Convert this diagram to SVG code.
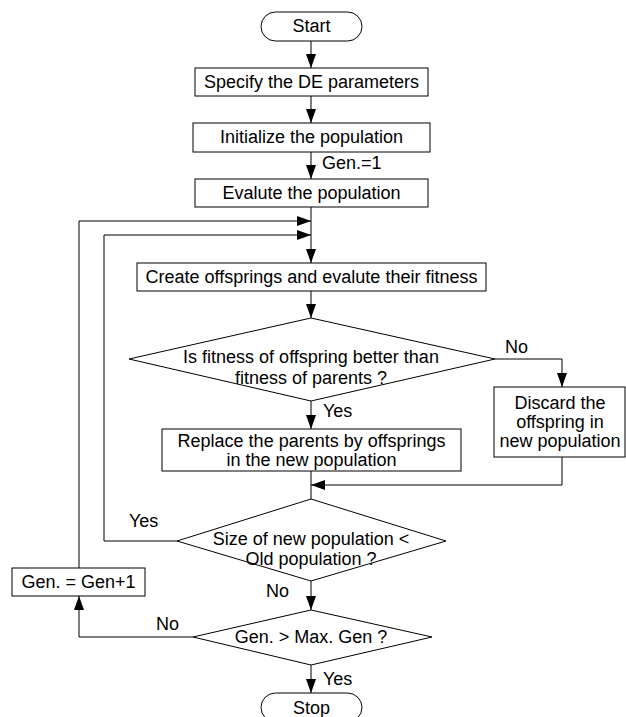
<svg xmlns="http://www.w3.org/2000/svg" width="626" height="717" viewBox="0 0 626 717">
<defs>
<marker id="arr" viewBox="0 0 14 10" refX="14" refY="5" markerWidth="14" markerHeight="10" markerUnits="userSpaceOnUse" orient="auto">
<path d="M0,0 L14,5 L0,10 Z" fill="#000"/>
</marker>
</defs>
<style>
.s{fill:#fff;stroke:#000;stroke-width:1}
.t{font-family:"Liberation Sans",Arial,sans-serif;font-size:18px;fill:#000;text-anchor:middle;dominant-baseline:central}
.l{font-family:"Liberation Sans",Arial,sans-serif;font-size:18px;fill:#000;dominant-baseline:central}
.c{fill:none;stroke:#000;stroke-width:1}
</style>
<rect width="626" height="717" fill="#fff"/>
<g id="connectors">
<path class="c" d="M311,41 V68" marker-end="url(#arr)"/>
<path class="c" d="M311,96 V123" marker-end="url(#arr)"/>
<path class="c" d="M311,152 V179" marker-end="url(#arr)"/>
<path class="c" d="M311,207 V263" marker-end="url(#arr)"/>
<path class="c" d="M311,291 V318" marker-end="url(#arr)"/>
<path class="c" d="M495,359 H562 V387" marker-end="url(#arr)"/>
<path class="c" d="M311,401 V429" marker-end="url(#arr)"/>
<path class="c" d="M562,457 V485 H311" marker-end="url(#arr)"/>
<path class="c" d="M311,471 V499"/>
<path class="c" d="M177,541 H104 V235 H311" marker-end="url(#arr)"/>
<path class="c" d="M79,568 V221 H311" marker-end="url(#arr)"/>
<path class="c" d="M311,581 V610" marker-end="url(#arr)"/>
<path class="c" d="M193,637 H79 V596" marker-end="url(#arr)"/>
<path class="c" d="M311,665 V693" marker-end="url(#arr)"/>
<text class="l" x="322" y="163">Gen.=1</text>
<text class="l" x="505" y="347">No</text>
<text class="l" x="323" y="411">Yes</text>
<text class="l" x="129" y="521">Yes</text>
<text class="l" x="266" y="591">No</text>
<text class="l" x="156" y="624">No</text>
<text class="l" x="323" y="679">Yes</text>
</g>
<g id="start">
<rect class="s" x="261" y="12" width="101" height="29" rx="14.5"/>
<text class="t" x="311.5" y="26">Start</text>
</g>
<g id="specify">
<rect class="s" x="195" y="68" width="233" height="28"/>
<text class="t" x="311.5" y="82">Specify the DE parameters</text>
</g>
<g id="init">
<rect class="s" x="193" y="123" width="237" height="29"/>
<text class="t" x="311.5" y="137">Initialize the population</text>
</g>
<g id="evaluate">
<rect class="s" x="195" y="179" width="233" height="28"/>
<text class="t" x="311.5" y="193">Evalute the population</text>
</g>
<g id="create">
<rect class="s" x="137" y="263" width="349" height="28"/>
<text class="t" x="311.5" y="277">Create offsprings and evalute their fitness</text>
</g>
<g id="decision1">
<polygon class="s" points="311,318 495,359 311,401 129,359"/>
<text class="t" x="311" y="357">Is fitness of offspring better than</text>
<text class="t" x="311" y="378">fitness of parents ?</text>
</g>
<g id="discard">
<rect class="s" x="494" y="387" width="131" height="70"/>
<text class="t" x="560" y="403">Discard the</text>
<text class="t" x="560" y="422">offspring in</text>
<text class="t" x="560" y="441">new population</text>
</g>
<g id="replace">
<rect class="s" x="162" y="429" width="299" height="42"/>
<text class="t" x="311.5" y="440.5">Replace the parents by offsprings</text>
<text class="t" x="311.5" y="459.5">in the new population</text>
</g>
<g id="decision2">
<polygon class="s" points="311,499 446,541 311,581 177,541"/>
<text class="t" x="311" y="539">Size of new population &lt;</text>
<text class="t" x="311" y="559">Old population ?</text>
</g>
<g id="gen">
<rect class="s" x="12" y="568" width="133" height="28"/>
<text class="t" x="78.5" y="582">Gen. = Gen+1</text>
</g>
<g id="decision3">
<polygon class="s" points="311,610 432,637 311,665 193,637"/>
<text class="t" x="311" y="637">Gen. &gt; Max. Gen ?</text>
</g>
<g id="stop">
<rect class="s" x="261" y="693" width="101" height="29" rx="14.5"/>
<text class="t" x="311.5" y="708">Stop</text>
</g>
</svg>
